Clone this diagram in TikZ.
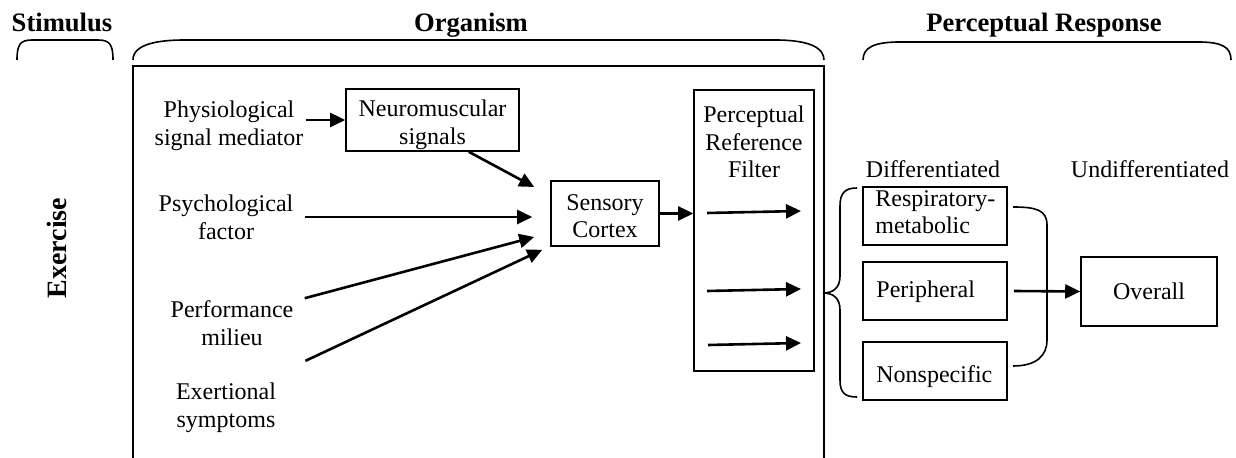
\documentclass[tikz,border=0pt]{standalone}
\usepackage{fontspec}
\setmainfont{Liberation Serif}
\usetikzlibrary{arrows.meta,calc}
\begin{document}
\begin{tikzpicture}[x=0.5pt,y=-0.5pt,
  every node/.style={font=\fontsize{12}{13.8}\selectfont},
  box/.style={draw,line width=0.8pt,inner sep=0pt,align=center},
  txt/.style={align=center,inner sep=1pt},
  ltxt/.style={align=left,inner sep=0pt,anchor=west},
  arr/.style={line width=1.3pt,-{Triangle[length=7.5pt,width=7pt]}},
  brc/.style={line width=0.8pt},
  ttl/.style={font=\fontsize{13.3}{15}\selectfont\bfseries,anchor=base},
  resp/.style={box,minimum width=72pt,minimum height=29pt}]
\useasboundingbox (0,0) rectangle (1236,458);

% titles
\node[ttl] (tstim) at (62,32) {Stimulus};
\node[ttl] (torg) at (471,32) {Organism};
\node[ttl] (tresp) at (1044,32) {Perceptual Response};
\node[font=\fontsize{14}{16}\selectfont\bfseries,rotate=90] (exer) at (57,248) {Exercise};

% top braces
\draw[brc] (17,60) .. controls (17,45) and (20,40) .. (32,40) -- (98,40) .. controls (110,40) and (113,45) .. (113,60);
\draw[brc] (133,60) .. controls (133,44) and (158,40) .. (185,40) -- (775,40) .. controls (810,40) and (824,48) .. (824,60);
\draw[brc] (863,60) .. controls (863,47) and (875,42) .. (900,42) -- (1198,42) .. controls (1222,42) and (1231,47) .. (1231,60);

% organism frame
\draw[line width=0.8pt] (133,458) -- (133,66) -- (824,66) -- (824,458);

% input texts
\node[txt] (phys) at (229,126) {Physiological\\signal mediator};
\node[txt] (psych) at (226,217) {Psychological\\factor};
\node[txt] (perf) at (232,323) {Performance\\milieu};
\node[txt] (exert) at (226,408) {Exertional\\symptoms};

% boxes
\node[box,minimum width=86.5pt,minimum height=31pt] (nm) at (432.5,120) {};
\node[txt] (nmt) at (432.5,125) {Neuromuscular\\signals};
\node[box,minimum width=54pt,minimum height=32.5pt] (sc) at (605,213.5) {};
\node[txt] (sct) at (605,216) {Sensory\\Cortex};
\node[box,minimum width=60pt,minimum height=140.5pt] (prf) at (754,230.5) {};
\node[txt] (prft) at (754,142) {Perceptual\\Reference\\Filter};

% arrows into sensory cortex
\draw[arr] (phys.east |- nm.west) -- (nm.west);
\draw[arr] ($(nm.south east)+(-51,0)$) -- ($(sc.west)+(-16,-26.5)$);
\draw[arr] ($(psych.east)+(9,0)$) -- ($(sc.west)+(-18,3.5)$);
\draw[arr] ($(perf.north east)+(9,0)$) -- ($(sc.west)+(-16,23.5)$);
\draw[arr] ($(exert.north east)+(27,-20)$) -- ($(sc.south west)+(-8,3)$);
\draw[arr] (sc.east) -- (prf.west |- sc.east);

% arrows in filter
\coordinate (f1a) at (707,213); \coordinate (f1b) at (801,211);
\coordinate (f2a) at (707,291); \coordinate (f2b) at (801,289);
\coordinate (f3a) at (708,345); \coordinate (f3b) at (801,343);
\draw[arr] (f1a) -- (f1b);
\draw[arr] (f2a) -- (f2b);
\draw[arr] (f3a) -- (f3b);

% response section
\node[anchor=base] (diff) at (933,178) {Differentiated};
\node[anchor=base] (undiff) at (1150,178) {Undifferentiated};
\node[resp] (rm) at (935,216) {};
\node[ltxt] (rmt) at (875,212) {Respiratory-\\metabolic};
\node[resp] (per) at (935,291) {};
\node[ltxt] (pert) at (876,292) {Peripheral};
\node[resp] (ns) at (935,371) {};
\node[ltxt] (nst) at (876,377) {Nonspecific};
\node[box,minimum width=68pt,minimum height=34.5pt] (ov) at (1149,291.5) {Overall};

% curly brace
\draw[brc] (857,188) .. controls (845,188) and (840,193) .. (840,206) -- (840,276)
  .. controls (840,288) and (833,293) .. (823,293)
  .. controls (833,293) and (840,298) .. (840,310) -- (840,380)
  .. controls (840,393) and (845,397) .. (857,397);
% closing bracket
\draw[brc] (1013,207) .. controls (1036,207) and (1047,210) .. (1047,225) -- (1047,340)
  .. controls (1047,356) and (1036,366) .. (1013,366);

\draw[arr] ($(per.east)+(6,0)$) -- (ov.west);
\end{tikzpicture}
\end{document}
